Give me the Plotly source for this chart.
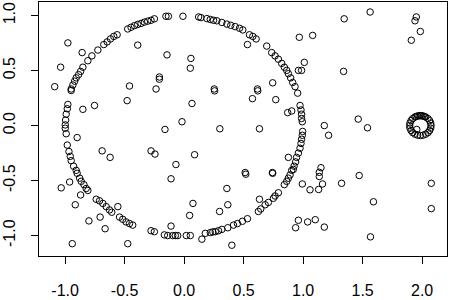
import plotly.graph_objects as go

# Points lying on the large ring
ring_x = [-0.949,-0.935,-0.920,-0.907,-0.887,-0.870,-0.851,-0.809,-0.775,-0.725,-0.675,-0.647,-0.619,-0.591,-0.563,
          -0.474,-0.446,-0.417,-0.390,-0.362,-0.334,-0.306,-0.278,-0.250,-0.153,-0.132,-0.010,0.122,0.141,0.191,0.220,
          0.247,0.275,0.317,0.359,0.392,0.429,0.465,0.493,0.549,0.577,0.605,0.694,0.736,0.764,0.792,0.820,0.842,0.862,
          0.876,0.895,0.912,0.932,0.954,0.974,0.982,0.987,0.987,0.993,0.996,0.993,0.987,0.982,0.974,0.960,0.945,0.937,
          0.924,0.904,0.918,0.890,0.876,0.862,0.842,0.792,0.764,0.750,0.708,0.681,0.644,0.624,0.532,0.490,0.448,0.415,
          0.367,0.317,0.289,0.262,0.241,0.220,0.178,0.052,0.018,-0.054,-0.074,-0.096,-0.138,-0.166,-0.250,-0.278,-0.432,
          -0.459,-0.488,-0.516,-0.543,-0.608,-0.627,-0.655,-0.683,-0.711,-0.739,-0.809,-0.823,-0.842,-0.865,-0.878,-0.899,
          -0.907,-0.929,-0.949,-0.957,-0.968,-0.982,-0.991,-0.999,-0.999,-0.996,-0.991,-0.982,-0.977,-0.949]
ring_y = [0.333,0.369,0.404,0.434,0.463,0.493,0.531,0.590,0.634,0.687,0.737,0.761,0.788,0.811,0.826,
          0.879,0.894,0.909,0.920,0.929,0.941,0.950,0.958,0.971,0.994,0.994,0.994,0.988,0.982,0.973,0.965,
          0.958,0.953,0.938,0.923,0.912,0.900,0.885,0.870,0.826,0.811,0.788,0.723,0.664,0.634,0.604,0.566,0.531,0.502,
          0.472,0.434,0.392,0.354,0.295,0.183,0.142,0.104,0.065,0.035,-0.053,-0.088,-0.124,-0.162,-0.206,-0.250,-0.289,-0.330,
          -0.369,-0.407,-0.398,-0.449,-0.478,-0.507,-0.537,-0.611,-0.640,-0.661,-0.699,-0.720,-0.758,-0.781,-0.847,-0.870,-0.891,-0.905,
          -0.929,-0.944,-0.956,-0.965,-0.967,-0.973,-0.980,-1.000,-1.000,-1.000,-1.000,-1.000,-1.000,-0.994,-0.965,-0.956,-0.905,
          -0.891,-0.876,-0.852,-0.832,-0.788,-0.767,-0.737,-0.708,-0.684,-0.670,-0.590,-0.572,-0.537,-0.507,-0.478,-0.434,
          -0.407,-0.369,-0.319,-0.280,-0.236,-0.177,-0.074,-0.024,0.006,0.050,0.104,0.153,0.192,0.319]

# Points on the small ring near (2, 0)
small_x = [2.075,2.072,2.063,2.049,2.030,2.020,2.008,1.995,1.985,1.975,1.962,1.950,1.940,1.921,1.907,1.898,1.895,
           1.898,1.907,1.921,1.940,1.962,1.985,2.008,2.030,2.049,2.063,2.072]
small_y = [0.000,0.023,0.045,0.064,0.078,0.082,0.087,0.090,0.090,0.090,0.087,0.083,0.078,0.064,0.045,0.023,0.000,
           -0.023,-0.045,-0.064,-0.078,-0.087,-0.090,-0.087,-0.078,-0.064,-0.045,-0.023]

# Scattered points
noise_x = [-0.977,-0.857,-1.038,-1.088,-0.390,-0.144,-0.459,-0.208,-0.208,-0.236,0.968,1.080,0.532,0.057,0.052,0.744,
           1.010,0.960,0.987,0.253,0.616,1.345,1.563,1.951,1.940,1.985,1.909,1.340,-0.479,-0.753,-0.851,-0.899,-0.161,
           -0.689,-0.622,-0.278,-0.245,-0.069,0.256,0.619,0.574,0.770,0.066,-0.018,0.300,0.633,0.870,0.904,0.088,0.876,
           0.513,0.742,1.463,1.541,1.178,1.214,1.150,1.955,-0.962,-1.033,-0.870,-0.915,-0.557,-0.800,-0.706,-0.664,-0.940,
           -0.474,-0.110,-0.110,0.518,0.744,0.359,0.074,0.367,0.046,0.298,0.633,0.993,1.058,0.960,0.937,1.038,0.401,0.149,
           1.136,1.136,1.163,1.130,1.323,1.471,2.077,1.591,2.077,1.102,1.178,1.566]
noise_y = [0.752,0.664,0.531,0.354,0.732,0.643,0.360,0.422,0.442,0.333,0.803,0.820,0.737,0.611,0.522,0.389,
           0.575,0.502,0.502,0.333,0.333,0.971,1.033,0.988,0.953,0.856,0.776,0.493,0.227,0.183,0.148,-0.109,-0.035,
           -0.230,-0.289,-0.230,-0.259,-0.354,0.316,0.316,0.245,0.236,0.201,0.035,-0.029,-0.029,0.118,0.133,-0.265,-0.289,
           -0.427,-0.427,0.059,-0.020,0.000,-0.088,-0.383,-0.035,-0.513,-0.566,-0.631,-0.720,-0.737,-0.867,-0.832,-0.938,-1.074,
           -1.074,-0.484,-0.914,-0.442,-0.434,-0.572,-0.708,-0.720,-0.817,-0.781,-0.670,-0.531,-0.584,-0.861,-0.929,-0.876,-1.088,-1.033,
           -0.425,-0.463,-0.531,-0.581,-0.525,-0.454,-0.525,-0.693,-0.755,-0.856,-0.923,-1.012]

x_ticks = [-1.0, -0.5, 0.0, 0.5, 1.0, 1.5, 2.0]
x_tick_text = ["-1.0", "-0.5", "0.0", "0.5", "1.0", "1.5", "2.0"]
y_ticks = [-1.0, -0.5, 0.0, 0.5, 1.0]
y_tick_text = ["-1.0", "-0.5", "0.0", "0.5", "1.0"]

xs = ring_x + small_x + noise_x
ys = ring_y + small_y + noise_y

marker = dict(symbol="circle-open", size=6.5, color="black", line=dict(width=1, color="black"))

fig = go.Figure(go.Scatter(x=xs, y=ys, mode="markers", marker=marker, hoverinfo="skip"))

font = dict(family="Liberation Sans, Arial, sans-serif", size=16, color="#000000")
fig.update_layout(
    width=450, height=300,
    margin=dict(l=38, r=3, t=1, b=38),
    plot_bgcolor="white", paper_bgcolor="white",
    showlegend=False,
    font=font,
)
fig.update_xaxes(
    range=[-1.2196, 2.209], showgrid=False, zeroline=False,
    showline=True, mirror=True, linecolor="black", linewidth=1,
    ticks="outside", ticklen=7, tickwidth=1, tickcolor="black",
    tickvals=x_ticks, ticktext=x_tick_text, ticklabelstandoff=13,
)
fig.update_yaxes(
    range=[-1.186, 1.124], showgrid=False, zeroline=False,
    showline=True, mirror=True, linecolor="black", linewidth=1,
    ticks="outside", ticklen=7, tickwidth=1, tickcolor="black",
    tickvals=y_ticks, ticktext=y_tick_text, tickangle=-90, ticklabelstandoff=10,
)

fig.write_html("out.html")
